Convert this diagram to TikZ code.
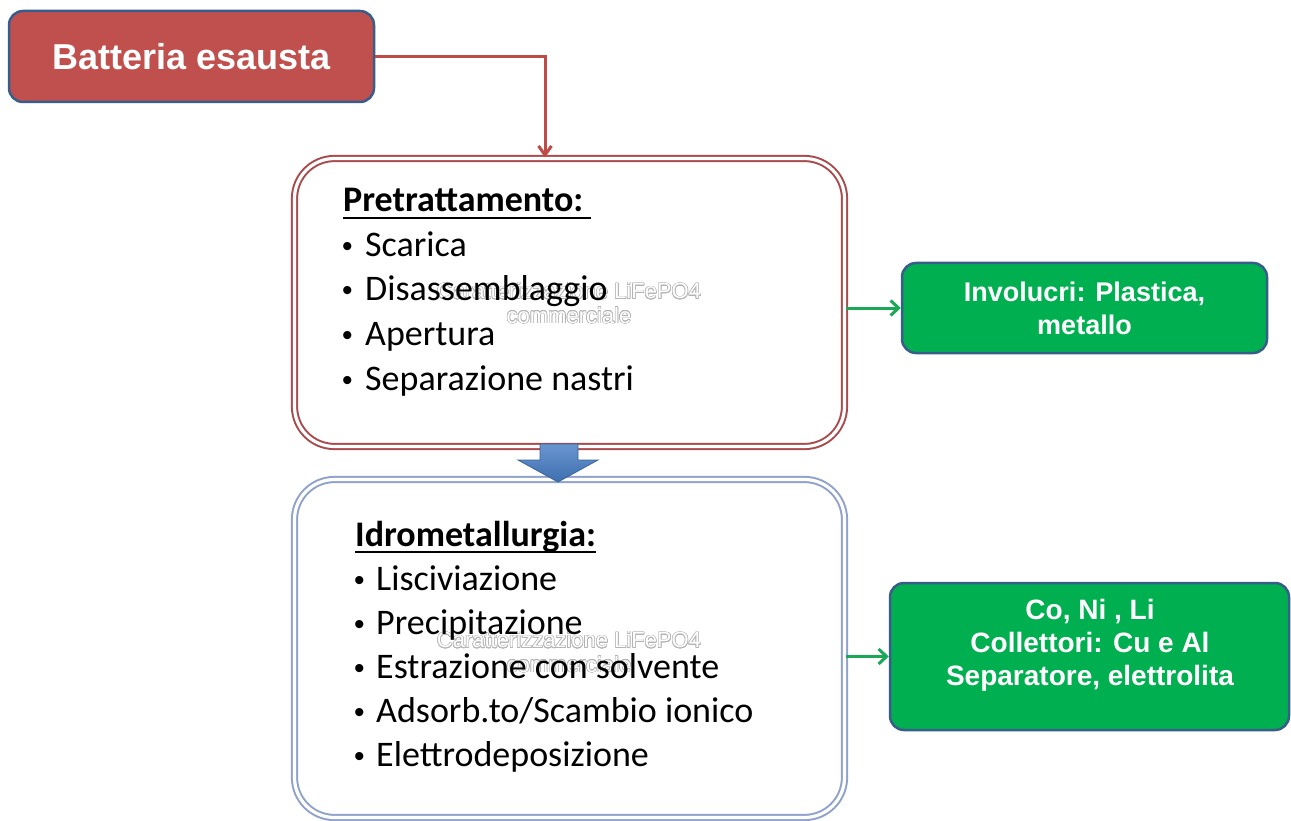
\documentclass[tikz,border=0pt]{standalone}
\usepackage{fontspec}
\setmainfont{Carlito}
\newfontfamily\arialfont{Liberation Sans}
\usepackage{contour}
\contourlength{0.6pt}
\contournumber{16}
\usetikzlibrary{arrows.meta}
\definecolor{redfill}{HTML}{C0504D}
\definecolor{boxblue}{HTML}{385D8A}
\definecolor{greenfill}{HTML}{00B050}
\definecolor{redline}{HTML}{BE4B48}
\definecolor{prered}{HTML}{A94A4C}
\definecolor{idroblue}{HTML}{8FA2CB}
\definecolor{greenline}{HTML}{1AA856}
\definecolor{arrowtop}{HTML}{6A96D0}
\definecolor{arrowbot}{HTML}{3E6FB0}
\definecolor{arrowedge}{HTML}{3A6496}
\definecolor{wmgray}{HTML}{B4B4B4}
\begin{document}
\begin{tikzpicture}[x=1pt,y=-1pt,
  redbox/.style={draw=boxblue, line width=2.5pt, fill=redfill, rounded corners=14pt, text=white,
    font=\arialfont\bfseries\fontsize{36}{40}\selectfont, inner sep=0},
  greenbox/.style={draw=boxblue, line width=2.5pt, fill=greenfill, rounded corners=14pt, text=white,
    font=\arialfont\bfseries\fontsize{27}{33}\selectfont, align=center, inner sep=0},
  stage/.style={rounded corners=40pt, line width=2pt, double=white, double distance=3.2pt, inner sep=0},
  listtext/.style={anchor=base west, inner sep=0, font=\fontsize{36}{44}\selectfont},
  bullet/.style={anchor=base west, inner sep=0, font=\arialfont\fontsize{30}{36}\selectfont},
  titletext/.style={anchor=base west, inner sep=0, font=\bfseries\fontsize{36}{44}\selectfont},
  wm/.style={font=\arialfont\fontsize{22}{24.5}\selectfont, inner sep=0, text=white, align=center},
  redarrow/.style={draw=redline, line width=3pt, -{Straight Barb[length=9pt,width=13pt]}},
  greenarrow/.style={draw=greenline, line width=3pt, -{Straight Barb[length=8pt,width=15pt]}},
  gtext/.style={text=white, font=\arialfont\bfseries\fontsize{28}{33}\selectfont, align=center, inner sep=0},
]
\useasboundingbox[fill=white] (0,0) rectangle (1291,821);

% main boxes
\node[redbox, minimum width=365pt, minimum height=91pt] (bat) at (191.5,56.5) {Batteria esausta};
\node[stage, draw=prered, minimum width=550pt, minimum height=288pt] (pre) at (569.5,302.5) {};
\node[stage, draw=idroblue, minimum width=550pt, minimum height=338pt] (idro) at (569.5,648.5) {};
\node[greenbox, minimum width=365pt, minimum height=90pt] (g1) at (1084.5,308) {Involucri: Plastica,\\metallo};
\node[greenbox, minimum width=399pt, minimum height=147pt] (g2) at (1089.5,656.5) {};
\node[gtext] (g2t) at (1090,645) {Co, Ni , Li\\Collettori: Cu e Al\\Separatore, elettrolita};

% watermarks
\node[wm] (wm1) at (569,303.5) {\contour{wmgray}{Caratterizzazione LiFePO4}\\\contour{wmgray}{commerciale}};
\node[wm] (wm2) at (569,652.5) {\contour{wmgray}{Caratterizzazione LiFePO4}\\\contour{wmgray}{commerciale}};

% Pretrattamento text
\node[titletext] (pt) at (343,212) {Pretrattamento:};
\draw[line width=2.2pt] ([yshift=-6pt]pt.base west) -- ([yshift=-6pt,xshift=7pt]pt.base east);
\node[bullet] (pb1) at (342,257) {•};
\node[listtext] (p1) at (365,257) {Scarica};
\node[bullet] (pb2) at (342,301) {•};
\node[listtext] (p2) at (365,301) {Disassemblaggio};
\node[bullet] (pb3) at (342,345) {•};
\node[listtext] (p3) at (365,345) {Apertura};
\node[bullet] (pb4) at (342,390) {•};
\node[listtext] (p4) at (365,390) {Separazione nastri};

% Idrometallurgia text
\node[titletext] (it) at (355,546) {Idrometallurgia:};
\draw[line width=2.2pt] ([yshift=-6pt]it.base west) -- ([yshift=-6pt]it.base east);
\node[bullet] (ib1) at (354,590) {•};
\node[listtext] (i1) at (376,590) {Lisciviazione};
\node[bullet] (ib2) at (354,634) {•};
\node[listtext] (i2) at (376,634) {Precipitazione};
\node[bullet] (ib3) at (354,678) {•};
\node[listtext] (i3) at (376,678) {Estrazione con solvente};
\node[bullet] (ib4) at (354,722) {•};
\node[listtext] (i4) at (376,722) {Adsorb.to/Scambio ionico};
\node[bullet] (ib5) at (354,766) {•};
\node[listtext] (i5) at (376,766) {Elettrodeposizione};

% connectors
\draw[redarrow] (bat.east) -| ([xshift=-24.5pt]pre.north);
\draw[greenarrow] (pre.east |- g1.west) -- (g1.west);
\draw[greenarrow] (idro.east |- g2.west) -- (g2.west);
\path[top color=arrowtop, bottom color=arrowbot, draw=arrowedge, line width=0.8pt]
  (540,444) -- (578,444) -- (578,460) -- (598,460) -- (558,482) -- (518,460) -- (540,460) -- cycle;
\end{tikzpicture}
\end{document}
